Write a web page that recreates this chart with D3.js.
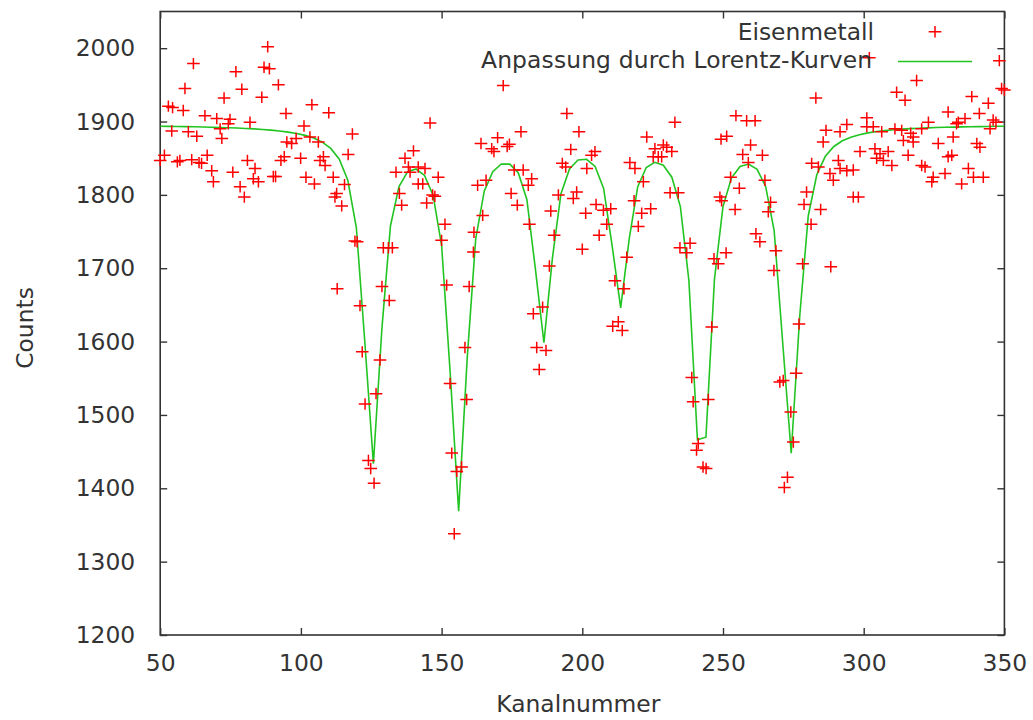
<!DOCTYPE html>
<html><head><meta charset="utf-8">
<script src="https://cdn.jsdelivr.net/npm/d3@7"></script>
<style>
body{margin:0;background:#fff}
svg{display:block}
text{font-family:"DejaVu Sans",Verdana,sans-serif;fill:#333}
</style>
</head><body>
<svg id="chart" width="1033" height="720"></svg>
<script>
// measured data: channel number and counts (Eisenmetall)
const channel = [50.0,51.5,52.9,54.1,54.4,56.1,57.0,58.2,58.8,60.0,61.2,61.8,63.0,63.8,64.7,65.9,66.7,68.3,68.9,70.1,71.3,71.9,72.7,74.2,74.8,75.8,76.9,78.4,79.0,79.9,81.0,81.9,83.1,83.7,84.9,86.1,86.9,88.2,88.8,90.2,91.0,92.0,92.9,94.1,94.7,95.0,96.7,98.3,99.9,101.1,101.8,103.2,103.9,104.8,106.2,106.8,108.0,108.6,109.9,111.5,112.1,112.7,112.9,114.5,115.5,116.8,118.3,119.2,120.0,121.0,121.8,122.8,124.0,124.8,126.0,126.7,128.1,128.8,129.3,131.1,131.4,132.5,133.8,135.0,135.8,137.0,138.2,138.8,140.0,141.7,141.7,143.3,144.1,144.7,145.9,146.8,147.6,148.8,150.0,151.2,151.8,153.0,153.6,154.5,155.4,157.1,158.3,158.9,159.8,161.3,161.5,162.8,164.0,164.6,165.8,167.8,168.6,169.9,171.9,173.3,174.1,174.7,175.8,176.9,178.2,179.0,180.8,181.2,182.0,182.6,183.8,184.7,185.9,187.1,188.3,188.8,190.0,191.5,192.9,194.1,194.5,195.9,196.8,198.0,198.8,200.0,201.2,201.6,203.3,204.5,204.9,206.0,207.5,208.7,210.1,210.8,211.6,212.8,214.2,214.8,215.8,216.9,218.4,218.7,219.9,221.1,221.7,222.9,224.3,225.2,225.8,227.0,228.2,228.8,230.0,231.2,231.8,232.9,234.1,234.7,237.1,238.3,238.9,239.4,240.6,241.2,242.9,244.0,244.8,246.0,246.8,248.3,248.9,249.5,249.3,251.1,251.3,252.7,254.3,254.6,255.8,257.0,258.4,259.0,259.8,261.4,261.7,263.1,264.0,264.9,266.1,266.9,268.1,268.8,270.2,271.4,271.8,272.9,274.1,275.0,276.0,277.0,278.3,278.8,279.7,281.3,281.5,283.0,283.9,284.7,285.6,286.6,288.0,288.3,289.2,291.0,291.6,291.6,294.0,294.0,296.3,296.3,298.1,298.7,301.1,301.1,302.0,303.4,304.0,304.6,305.8,306.4,307.0,308.7,310.0,311.1,311.7,313.5,314.1,314.7,315.8,316.7,317.6,317.6,318.8,320.6,320.6,321.8,323.0,324.2,324.7,326.5,328.9,330.0,330.0,331.3,331.8,333.0,333.6,334.8,336.0,337.2,338.4,339.0,340.2,341.1,341.3,342.5,344.3,344.9,346.0,347.0,348.2,349.0,350.0];
const counts = [1847,1854,1921,1887,1919,1845,1847,1915,1945,1886,1848,1979,1880,1844,1843,1908,1854,1833,1818,1904,1890,1877,1932,1897,1903,1831,1968,1811,1944,1797,1847,1899,1822,1836,1818,1933,1974,2002,1972,1825,1825,1950,1847,1852,1911,1872,1870,1877,1850,1894,1824,1879,1923,1815,1872,1847,1852,1840,1912,1824,1797,1802,1672,1785,1814,1855,1883,1737,1736,1649,1586,1515,1438,1427,1407,1529,1575,1675,1728,1728,1656,1728,1831,1802,1786,1850,1838,1831,1860,1838,1815,1815,1836,1789,1898,1800,1798,1824,1738,1760,1677,1543,1448,1338,1423,1429,1592,1521,1675,1722,1749,1813,1870,1772,1820,1863,1859,1878,1949,1866,1869,1802,1834,1786,1886,1834,1813,1760,1822,1638,1592,1562,1647,1588,1703,1778,1745,1800,1843,1838,1911,1862,1795,1804,1886,1726,1775,1836,1854,1859,1787,1745,1779,1760,1781,1621,1683,1627,1615,1672,1715,1844,1792,1836,1757,1775,1818,1879,1781,1852,1863,1852,1852,1868,1865,1803,1859,1899,1803,1728,1721,1734,1551,1518,1452,1461,1429,1427,1521,1620,1713,1706,1797,1792,1876,1721,1880,1824,1780,1908,1809,1855,1901,1844,1868,1901,1747,1736,1854,1820,1777,1790,1697,1724,1545,1547,1401,1415,1504,1463,1557,1624,1706,1787,1804,1760,1843,1932,1838,1780,1872,1888,1829,1702,1820,1847,1886,1836,1896,1833,1834,1797,1797,1859,1905,1893,1987,1893,1863,1850,1856,1886,1847,1859,1840,1890,1940,1888,1874,1929,1854,1884,1879,1872,1956,1890,1840,1838,1899,1818,1824,1870,1829,1913,1852,1854,1879,1897,1899,1815,1904,1836,1934,1824,1870,1911,1865,1824,1925,1890,1902,1899,1983,1945,1943];

// fitted curve (Anpassung durch Lorentz-Kurven), read at the plotted sample channels
const fitChannel = [50.00,53.03,56.06,59.09,62.12,65.15,68.18,71.21,74.24,77.27,80.30,83.33,86.36,89.39,92.42,95.45,98.48,101.52,104.55,107.58,110.61,113.64,116.67,119.70,122.73,125.76,128.79,131.82,134.85,137.88,140.91,143.94,146.97,150.00,153.03,156.06,159.09,162.12,165.15,168.18,171.21,174.24,177.27,180.30,183.33,186.36,189.39,192.42,195.45,198.48,201.52,204.55,207.58,210.61,213.64,216.67,219.70,222.73,225.76,228.79,231.82,234.85,237.88,240.91,243.94,246.97,250.00,253.03,256.06,259.09,262.12,265.15,268.18,271.21,274.24,277.27,280.30,283.33,286.36,289.39,292.42,295.45,298.48,301.52,304.55,307.58,310.61,313.64,316.67,319.70,322.73,325.76,328.79,331.82,334.85,337.88,340.91,343.94,346.97,350.00];
const fitCounts = [1893.5,1893.4,1893.2,1893.0,1892.8,1892.5,1892.2,1891.9,1891.5,1891.1,1890.6,1890.0,1889.2,1888.3,1887.1,1885.6,1883.7,1881.1,1877.4,1872.0,1863.3,1848.6,1819.9,1755.5,1598.8,1433.5,1617.9,1757.6,1811.4,1831.3,1835.3,1826.5,1799.6,1731.3,1558.5,1368.7,1576.8,1740.1,1805.0,1831.7,1842.1,1841.9,1829.8,1793.7,1699.0,1598.4,1714.1,1801.6,1835.3,1847.5,1848.5,1838.7,1808.8,1730.6,1646.0,1739.9,1811.2,1837.3,1844.4,1840.4,1824.1,1784.0,1683.3,1466.1,1469.6,1685.4,1784.3,1823.3,1838.7,1842.0,1834.8,1811.5,1751.3,1598.8,1447.8,1634.9,1771.6,1827.4,1852.6,1866.0,1873.7,1878.7,1882.1,1884.5,1886.3,1887.6,1888.7,1889.6,1890.3,1890.9,1891.3,1891.8,1892.1,1892.4,1892.7,1892.9,1893.1,1893.3,1893.5,1893.6];

const xTicks = [50,100,150,200,250,300,350];
const yTicks = [1200,1300,1400,1500,1600,1700,1800,1900,2000];
const xDomain = [50,350];
const yDomain = [1200,2050];
const seriesNames = ["Eisenmetall","Anpassung durch Lorentz-Kurven"];
const xTitle = "Kanalnummer";
const yTitle = "Counts";

const svg = d3.select("#chart");
const L = 160.2, R = 1004.4, T = 11.5, B = 635;
const x = d3.scaleLinear().domain(xDomain).range([L,R]);
const y = d3.scaleLinear().domain(yDomain).range([B,T]);
const tickLen = 7;
const axisColor = "#333";
const red = "#ff0000", green = "#22c422";
const fs = 23.4;

function styleAxis(g){
  g.select(".domain").remove();
  g.selectAll(".tick line").attr("stroke",axisColor).attr("stroke-width",1.4);
  g.selectAll(".tick text").attr("font-size",fs).attr("fill","#333")
   .style("font-family",'"DejaVu Sans",sans-serif');
}
svg.append("g").attr("transform",`translate(0,${B})`)
  .call(d3.axisBottom(x).tickValues(xTicks).tickSize(-tickLen).tickPadding(19).tickFormat(d3.format("d")))
  .call(styleAxis);
svg.append("g").attr("transform",`translate(0,${T})`)
  .call(d3.axisTop(x).tickValues(xTicks).tickSize(-tickLen).tickFormat(""))
  .call(styleAxis);
svg.append("g").attr("transform",`translate(${L},0)`)
  .call(d3.axisLeft(y).tickValues(yTicks).tickSize(-tickLen).tickPadding(25).tickFormat(d3.format("d")))
  .call(styleAxis);
svg.append("g").attr("transform",`translate(${R},0)`)
  .call(d3.axisRight(y).tickValues(yTicks).tickSize(-tickLen).tickFormat(""))
  .call(styleAxis);

// border
svg.append("rect").attr("x",L).attr("y",T).attr("width",R-L).attr("height",B-T)
  .attr("fill","none").attr("stroke",axisColor).attr("stroke-width",1.6);

// clip
svg.append("clipPath").attr("id","clip").append("rect")
  .attr("x",L).attr("y",T).attr("width",R-L).attr("height",B-T);

const plot = svg.append("g").attr("clip-path","url(#clip)");

// fitted curve
const line = d3.line().x((d,i)=>x(fitChannel[i])).y((d,i)=>y(fitCounts[i]));
plot.append("path").datum(fitCounts).attr("d",line)
  .attr("fill","none").attr("stroke",green).attr("stroke-width",1.6).attr("stroke-linejoin","miter");

// data points as "+"
const hw = 6.3, hh = 5.7;
function crossPath(cx,cy){return `M${cx-hw},${cy}H${cx+hw}M${cx},${cy-hh}V${cy+hh}`;}
svg.append("g").selectAll("path").data(counts).join("path")
  .attr("d",(d,i)=>crossPath(x(channel[i]),y(d)))
  .attr("fill","none").attr("stroke",red).attr("stroke-width",1.5);

// legend
const leg = svg.append("g");
leg.append("text").attr("x",874).attr("y",39.5).attr("text-anchor","end").attr("font-size",fs).text(seriesNames[0]);
leg.append("path").attr("d",crossPath(935,31.7)).attr("stroke",red).attr("stroke-width",1.5).attr("fill","none");
leg.append("text").attr("x",872).attr("y",68).attr("text-anchor","end").attr("font-size",fs).attr("textLength",391).text(seriesNames[1]);
leg.append("line").attr("x1",898).attr("x2",972).attr("y1",61.5).attr("y2",61.5).attr("stroke",green).attr("stroke-width",1.6);

// axis titles
svg.append("text").attr("x",(L+R)/2-4).attr("y",712).attr("text-anchor","middle").attr("font-size",fs).text(xTitle);
svg.append("text").attr("transform","translate(33,328) rotate(-90)").attr("text-anchor","middle").attr("font-size",fs).text(yTitle);
</script>
</body></html>
